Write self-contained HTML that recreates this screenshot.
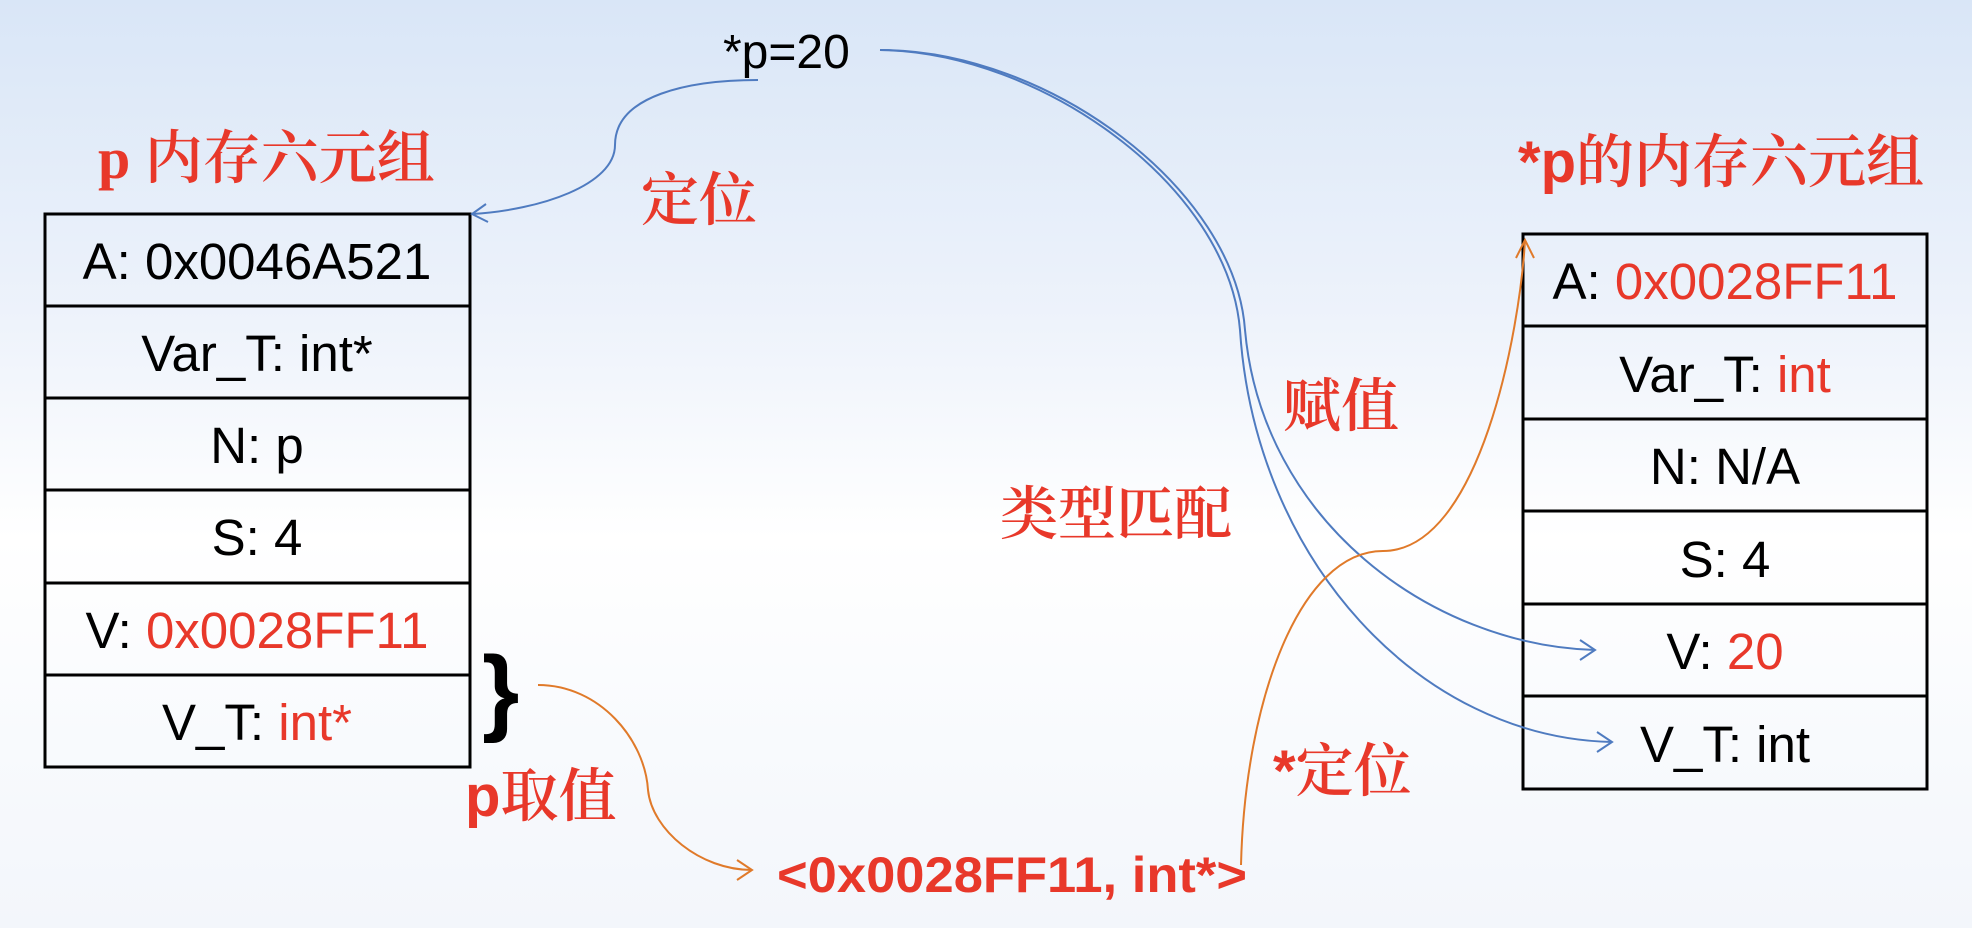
<!DOCTYPE html>
<html><head><meta charset="utf-8"><style>
html,body{margin:0;padding:0;}
body{width:1972px;height:928px;overflow:hidden;background:linear-gradient(#d9e6f7 0%,#eef3fb 35%,#ffffff 58%,#f8fafd 80%,#f3f6fb 100%);}
svg{position:absolute;left:0;top:0;}
.t{font-family:"Liberation Sans","Noto Sans CJK SC",sans-serif;font-size:51px;fill:#000;}
.r{fill:#e8382a;}
.cj{font-family:"Liberation Serif","Noto Serif CJK SC",serif;font-size:58px;fill:#e8382a;font-weight:600;}
.b{font-family:"Liberation Sans","Noto Sans CJK SC",sans-serif;font-weight:bold;fill:#e8382a;}
.s{font-family:'Liberation Serif','Noto Serif CJK SC',serif;font-weight:600;}
</style></head><body>
<svg width="1972" height="928" viewBox="0 0 1972 928">
<g fill="none" stroke="#000" stroke-width="3">
<rect x="45" y="214" width="425" height="553"/>
<line x1="45" y1="306" x2="470" y2="306"/><line x1="45" y1="398" x2="470" y2="398"/>
<line x1="45" y1="490" x2="470" y2="490"/><line x1="45" y1="583" x2="470" y2="583"/>
<line x1="45" y1="675" x2="470" y2="675"/>
<rect x="1523" y="234" width="404" height="555"/>
<line x1="1523" y1="326" x2="1927" y2="326"/><line x1="1523" y1="419" x2="1927" y2="419"/>
<line x1="1523" y1="511" x2="1927" y2="511"/><line x1="1523" y1="604" x2="1927" y2="604"/>
<line x1="1523" y1="696" x2="1927" y2="696"/>
</g>
<g class="t" text-anchor="middle">
<text x="257" y="279">A: 0x0046A521</text>
<text x="257" y="371">Var_T: int*</text>
<text x="257" y="463">N: p</text>
<text x="257" y="555">S: 4</text>
<text x="257" y="648">V: <tspan class="r">0x0028FF11</tspan></text>
<text x="257" y="740">V_T: <tspan class="r">int*</tspan></text>
<text x="1725" y="299">A: <tspan class="r">0x0028FF11</tspan></text>
<text x="1725" y="392">Var_T: <tspan class="r">int</tspan></text>
<text x="1725" y="484">N: N/A</text>
<text x="1725" y="577">S: 4</text>
<text x="1725" y="669">V: <tspan class="r">20</tspan></text>
<text x="1725" y="762">V_T: int</text>
</g>
<text class="t" x="723" y="68" style="font-size:48px">*p=20</text>
<text x="482" y="723" style="font-family:'Liberation Sans',sans-serif;font-weight:bold;font-size:96px;">}</text>
<text class="cj" x="98" y="178">p 内存六元组</text>
<text class="cj" x="641" y="220">定位</text>
<text class="cj" x="1283" y="426">赋值</text>
<text class="cj" x="1000" y="534">类型匹配</text>
<text class="b" x="1518" y="182" style="font-size:58px">*p<tspan class="s">的内存六元组</tspan></text>
<text class="b" x="465" y="816" style="font-size:58px">p<tspan class="s">取值</tspan></text>
<text class="b" x="1273" y="791" style="font-size:58px">*<tspan class="s">定位</tspan></text>
<text class="b" x="777" y="892" style="font-size:50px" textLength="470" lengthAdjust="spacingAndGlyphs">&lt;0x0028FF11, int*&gt;</text>
<g fill="none" stroke="#4f7bc0" stroke-width="2">
<path d="M758,80 C690,80 615,95 615,145 C615,185 540,210 472,214"/>
<path d="M486,204 L472,214 L488,222"/>
<path d="M880,50 C1050,50 1235,190 1245,330 C1262,520 1430,645 1595,650"/>
<path d="M1580,640 L1595,650 L1580,660"/>
<path d="M880,50 C1040,52 1228,185 1240,330 C1255,560 1420,738 1612,742"/>
<path d="M1597,732 L1612,742 L1597,752"/>
</g>
<g fill="none" stroke="#e07a2a" stroke-width="2">
<path d="M538,685 C600,685 645,740 648,790 C652,830 700,870 752,870"/>
<path d="M737,860 L752,870 L737,880"/>
<path d="M1241,865 C1245,700 1300,551 1383,551 C1480,551 1520,330 1525,240"/>
<path d="M1516,258 L1525,240 L1534,258"/>
</g>
</svg>
</body></html>
